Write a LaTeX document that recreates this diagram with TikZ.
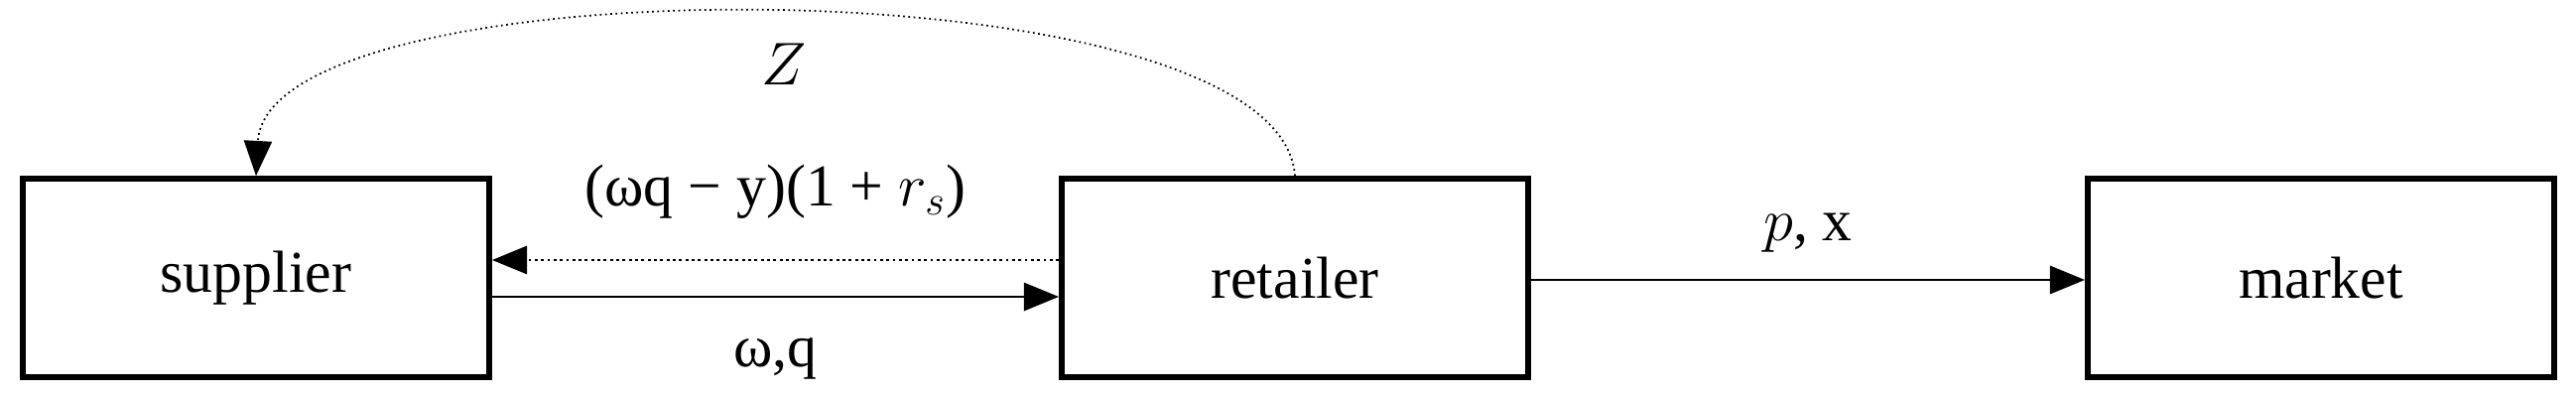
\documentclass[tikz,border=0pt]{standalone}
\usepackage{fontspec}
\setmainfont{Liberation Serif}
\usetikzlibrary{arrows.meta}
\begin{document}
\begin{tikzpicture}[x=0.01cm,y=-0.01cm,
  box/.style={draw,line width=1.6pt,minimum width=4.7cm,minimum height=2cm,inner sep=0pt,font=\fontsize{17}{20}\selectfont},
  lab/.style={font=\fontsize{17}{20}\selectfont},
  arr/.style={-{Triangle[length=10pt,width=8pt]},line width=0.8pt}]
\useasboundingbox (0,0) rectangle (2596,401);
\node[box] (s) at (258,280) {supplier};
\node[box] (r) at (1305,280) {retailer};
\node[box] (m) at (2339,280) {market};
\draw[arr] (r.east |- 0,282) -- (m.west |- 0,282) node[midway,above=4pt,lab]{$p$, x};
\draw[arr] (s.east |- 0,299) -- (r.west |- 0,299) node[midway,below=8pt,lab]{ω,q};
\draw[arr,densely dotted] (r.west |- 0,262) -- (s.east |- 0,262) node[midway,above=8pt,lab]{(ωq − y)(1 + $r_s$)};
\draw[-{Triangle[length=10pt,width=8pt]},line width=0.5pt,densely dotted] (r.north) .. controls (1290,-40) and (270,-40) .. (s.north) ;
\node[lab] (z) at (790,65) {$Z$};
\end{tikzpicture}
\end{document}
